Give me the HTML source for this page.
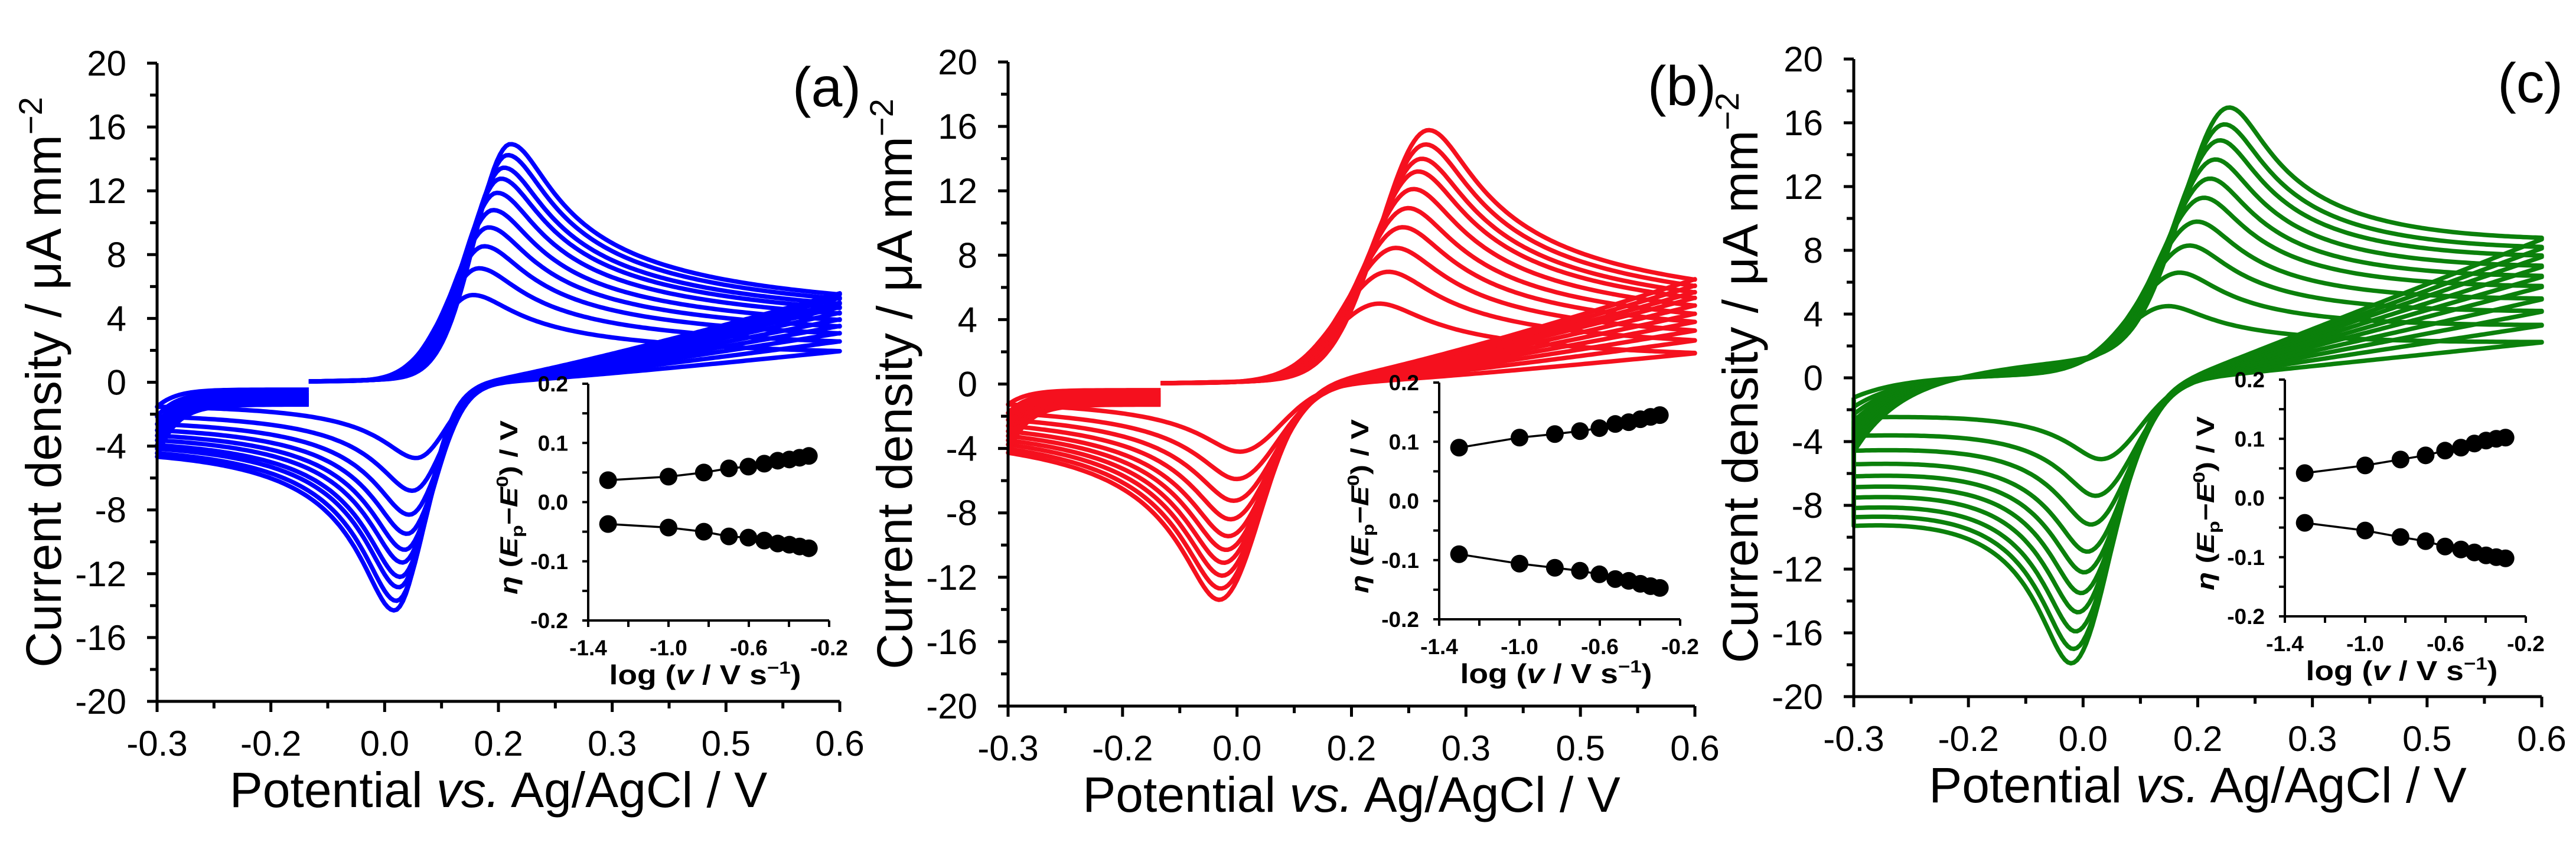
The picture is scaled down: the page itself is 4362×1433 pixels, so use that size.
<!DOCTYPE html>
<html><head><meta charset="utf-8"><style>
html,body{margin:0;padding:0;background:#fff;}
svg{display:block;}
text{font-family:"Liberation Sans",Arial,sans-serif;fill:#000;}
.b{font-weight:bold;}
</style></head>
<body>
<svg id="fig" width="4362" height="1433" viewBox="0 0 4362 1433" xmlns="http://www.w3.org/2000/svg"></svg>
<script>
// ---- data ----
const scanLogV = [-1.301,-1.0,-0.824,-0.699,-0.602,-0.523,-0.456,-0.398,-0.347,-0.301];

const aAnodicPeak = [5.5,7.2,8.6,9.8,10.9,12.0,12.9,13.6,14.4,15.1];
const aAnodicPotential = [0.116,0.124,0.131,0.137,0.143,0.148,0.153,0.157,0.162,0.166];
const aCathodicPeak = [-4.75,-6.8,-8.3,-9.5,-10.5,-11.3,-12.2,-12.85,-13.7,-14.3];
const aCathodicPotential = [0.042,0.037,0.033,0.030,0.027,0.024,0.021,0.019,0.016,0.013];
const aInsetUpper = [0.037,0.043,0.050,0.057,0.060,0.065,0.070,0.072,0.075,0.078];
const aInsetLower = [-0.037,-0.043,-0.050,-0.058,-0.060,-0.065,-0.070,-0.072,-0.075,-0.078];

const bAnodicPeak = [5.0,7.0,8.5,9.8,11.0,12.2,13.3,14.1,15.0,15.9];
const bAnodicPotential = [0.186,0.198,0.208,0.217,0.224,0.231,0.237,0.242,0.247,0.251];
const bCathodicPeak = [-4.2,-5.9,-7.25,-8.4,-9.45,-10.3,-11.1,-11.9,-12.7,-13.4];
const bCathodicPotential = [0.004,0.0,-0.004,-0.008,-0.011,-0.014,-0.017,-0.019,-0.021,-0.023];
const bInsetUpper = [0.090,0.107,0.113,0.118,0.123,0.130,0.133,0.138,0.142,0.145];
const bInsetLower = [-0.090,-0.106,-0.113,-0.118,-0.124,-0.132,-0.135,-0.140,-0.144,-0.147];

const cAnodicPeak = [4.5,6.6,8.3,9.8,11.3,12.5,13.7,14.9,15.9,16.96];
const cAnodicPotential = [0.11,0.125,0.138,0.148,0.157,0.165,0.172,0.178,0.184,0.19];
const cCathodicPeak = [-5.1,-7.4,-9.2,-10.9,-12.2,-13.5,-14.7,-15.9,-17.0,-17.9];
const cCathodicPotential = [0.025,0.018,0.012,0.007,0.003,-0.001,-0.005,-0.008,-0.011,-0.014];
const cInsetUpper = [0.042,0.055,0.065,0.072,0.080,0.085,0.092,0.097,0.100,0.102];
const cInsetLower = [-0.042,-0.055,-0.066,-0.073,-0.082,-0.087,-0.092,-0.097,-0.100,-0.102];

const xTickLabels = ['-0.3','-0.2','0.0','0.2','0.3','0.5','0.6'];
const yTickValues = [20,16,12,8,4,0,-4,-8,-12,-16,-20];
const insetYTickValues = [0.2,0.1,0.0,-0.1,-0.2];
const insetYTickLabels = ['0.2','0.1','0.0','-0.1','-0.2'];
const insetXTickValues = [-1.4,-1.0,-0.6,-0.2];
const insetXTickLabels = ['-1.4','-1.0','-0.6','-0.2'];

// ---- layout / model params ----
const panels = [
 {id:'a',label:'(a)',color:'#0000ff',x0:266,x1:1422,y0:107,y1:1188,
  ipa:aAnodicPeak,epa:aAnodicPotential,ipc:aCathodicPeak,epc:aCathodicPotential,up:aInsetUpper,lo:aInsetLower,
  m:{wa:.066,ba:.045,ka:.25,wc:.055,bc:.04,kc:.35,bgF0:0,bgF1:1.1,bgR0:-1.4,bgR1:3.1,dr:.1,pr:1.2,full:false}},
 {id:'b',label:'(b)',color:'#f5101e',x0:1707,x1:2870,y0:105,y1:1196,
  ipa:bAnodicPeak,epa:bAnodicPotential,ipc:bCathodicPeak,epc:bCathodicPotential,up:bInsetUpper,lo:bInsetLower,
  m:{wa:.09,ba:.05,ka:.25,wc:.075,bc:.045,kc:.35,bgF0:0,bgF1:0.9,bgR0:-0.6,bgR1:1.5,dr:.12,pr:1.2,full:false}},
 {id:'c',label:'(c)',color:'#0b800b',x0:3139,x1:4304,y0:100,y1:1180,
  ipa:cAnodicPeak,epa:cAnodicPotential,ipc:cCathodicPeak,epc:cCathodicPotential,up:cInsetUpper,lo:cInsetLower,
  m:{wa:.085,ba:.045,ka:.25,wc:.07,bc:.04,kc:.35,bgF0:-0.2,bgF1:4.5,bgR0:-5.3,bgR1:11.6,dr:.12,pr:1.0,full:true,tau:.06,startFrac:0.5}}
];

const NS='http://www.w3.org/2000/svg';
const svg=document.getElementById('fig');
function mk(tag,attrs,parent){const e=document.createElementNS(NS,tag);for(const k in attrs)e.setAttribute(k,attrs[k]);(parent||svg).appendChild(e);return e;}

function cvPoints(p,k){
 const m=p.m, maxI=Math.max(...p.ipa), s=p.ipa[k]/maxI;
 const bgF=E=>s*(m.bgF0+m.bgF1*(E+0.3));
 const bgR=E=>s*(m.bgR0+m.bgR1*(E+0.3));
 const Ea=p.epa[k], Ec=p.epc[k];
 const Ia=p.ipa[k]-bgF(Ea), Ic=bgR(Ec)-p.ipc[k];
 const shF=d=>d<0?Math.exp(-(d/m.wa)*(d/m.wa)):Math.pow(1+(d/m.ba)*(d/m.ba),-m.ka);
 const shC=d=>d<0?Math.exp(-(d/m.wc)*(d/m.wc)):Math.pow(1+(d/m.bc)*(d/m.bc),-m.kc);
 const fwd0=E=>Ia*shF(E-Ea)+bgF(E);
 const Er=Ec+m.dr;
 const R=fwd0(0.6)-bgR(0.6)-0.1*s;
 const rev=E=>{let t=(E-Er)/(0.6-Er);t=Math.max(0,Math.min(1,t));return R*Math.pow(t,m.pr)-Ic*shC(Ec-E)+bgR(E);};
 const yEnd=rev(-0.3);
 const pts=[];const st=0.004;
 const Es=-0.10;
 if(m.full){
  const off=yEnd*m.startFrac-fwd0(-0.3);
  for(let E=-0.3;E<=0.6+1e-9;E+=st)pts.push([E,fwd0(E)+off*Math.exp(-(E+0.3)/m.tau)]);
  for(let E=0.6;E>=-0.3-1e-9;E-=st)pts.push([E,rev(E)]);
  pts.push([-0.3,yEnd*m.startFrac]);
 }else{
  for(let E=Es;E<=0.6+1e-9;E+=st)pts.push([E,fwd0(E)-fwd0(Es)+0.05]);
  for(let E=0.6;E>=-0.3-1e-9;E-=st)pts.push([E,rev(E)]);
  const tgt=yEnd*0.3;
  for(let E=-0.3;E<=Es+1e-9;E+=st)pts.push([E,yEnd+(tgt-yEnd)*(1-Math.exp(-(E+0.3)/0.025))]);
 }
 return pts;
}

panels.forEach(p=>{
 const sx=E=>p.x0+(E+0.3)/0.9*(p.x1-p.x0);
 const sy=I=>p.y0+(20-I)/40*(p.y1-p.y0);
 const g=mk('g',{});
 
 

 for(let k=0;k<p.ipa.length;k++){
  const pts=cvPoints(p,k);
  const d=pts.map((q,i)=>(i?'L':'M')+sx(q[0]).toFixed(1)+' '+sy(q[1]).toFixed(1)).join('');
  const path=mk('path',{d:d,fill:'none',stroke:p.color,'stroke-width':7.5,'stroke-linejoin':'round'},g);
  
  
 }

 const ax=mk('path',{d:`M${p.x0} ${p.y0}V${p.y1}H${p.x1}`,fill:'none',stroke:'#000','stroke-width':5},g);
 
 
 for(let i=0;i<=12;i++){
  const E=-0.3+0.075*i, x=sx(E), maj=i%2===0;
  const t=mk('line',{x1:x,y1:p.y1,x2:x,y2:p.y1+(maj?18:12),stroke:'#000','stroke-width':5},g);
  
  
  if(maj){
   const tl=mk('text',{x:x,y:p.y1+92,'font-size':60,'text-anchor':'middle'},g);
   tl.textContent=xTickLabels[i/2];
   
   
  }
 }
 for(let v=-20;v<=20;v+=2){
  const y=sy(v), maj=v%4===0;
  const t=mk('line',{x1:p.x0-(maj?17:12),y1:y,x2:p.x0,y2:y,stroke:'#000','stroke-width':5},g);
  
  
 }
 yTickValues.forEach(v=>{
  const tl=mk('text',{x:p.x0-52,y:sy(v)+21,'font-size':60,'text-anchor':'end'},g);
  tl.textContent=String(v);
  
  
 });
 const xt=mk('text',{x:(p.x0+p.x1)/2,y:p.y1+179,'font-size':84,'text-anchor':'middle'},g);
 xt.innerHTML='Potential <tspan font-style="italic">vs.</tspan> Ag/AgCl / V';
 
 
 const ymid=(p.y0+p.y1)/2, ytx=p.x0-163;
 const yt=mk('text',{x:ytx,y:ymid,'font-size':84,'text-anchor':'middle',transform:`rotate(-90 ${ytx} ${ymid})`},g);
 yt.innerHTML='Current density / μA mm<tspan dy="-32" font-size="56">−2</tspan>';
 
 
 const pl=mk('text',{x:p.x1+36,y:p.y0+73,'font-size':95,'text-anchor':'end'},g);
 pl.textContent=p.label;
 
 

 const ix0=p.x0+730, ix1=ix0+408, iy0=p.y0+543, iy1=iy0+401;
 const ixs=v=>ix0+(v+1.4)/1.2*(ix1-ix0);
 const iys=v=>iy0+(0.2-v)/0.4*(iy1-iy0);
 const ig=mk('g',{},g);
 
 
 const iax=mk('path',{d:`M${ix0} ${iy0}V${iy1}H${ix1}`,fill:'none',stroke:'#000','stroke-width':4},ig);
 
 
 for(let i=0;i<=8;i++){
  const y=iys(0.2-0.05*i);
  const t=mk('line',{x1:ix0-10,y1:y,x2:ix0,y2:y,stroke:'#000','stroke-width':4},ig);
  
  
 }
 for(let i=0;i<=6;i++){
  const x=ixs(-1.4+0.2*i);
  const t=mk('line',{x1:x,y1:iy1,x2:x,y2:iy1+11,stroke:'#000','stroke-width':4},ig);
  
  
 }
 insetYTickValues.forEach((v,i)=>{
  const tl=mk('text',{x:ix0-34,y:iys(v)+13,'font-size':37,'text-anchor':'end','class':'b'},ig);
  tl.textContent=insetYTickLabels[i];
  
  
 });
 insetXTickValues.forEach((v,i)=>{
  const tl=mk('text',{x:ixs(v),y:iy1+59,'font-size':37,'text-anchor':'middle','class':'b'},ig);
  tl.textContent=insetXTickLabels[i];
  
  
 });
 const ixt=mk('text',{x:(ix0+ix1)/2-6,y:iy1+108,'font-size':46,'text-anchor':'middle','class':'b',textLength:325,lengthAdjust:'spacingAndGlyphs'},ig);
 ixt.innerHTML='log (<tspan font-style="italic">v</tspan> / V s<tspan dy="-18" font-size="30">−1</tspan><tspan dy="18">)</tspan>';
 
 
 const iyx=ix0-120, iym=(iy0+iy1)/2+9;
 const iyt=mk('text',{x:iyx,y:iym,'font-size':42,'text-anchor':'middle','class':'b',textLength:295,lengthAdjust:'spacingAndGlyphs',transform:`rotate(-90 ${iyx} ${iym})`},ig);
 iyt.innerHTML='<tspan font-style="italic">η</tspan> (<tspan font-style="italic">E</tspan><tspan dy="9" font-size="28">p</tspan><tspan dy="-9">−</tspan><tspan font-style="italic">E</tspan><tspan dy="-16" font-size="28">0</tspan><tspan dy="16">) / V</tspan>';
 
 
 [p.up,p.lo].forEach((ser,si)=>{
  const d=ser.map((v,i)=>(i?'L':'M')+ixs(scanLogV[i]).toFixed(1)+' '+iys(v).toFixed(1)).join('');
  const ln=mk('path',{d:d,fill:'none',stroke:'#000','stroke-width':3.5},ig);
  
  
  ser.forEach((v,i)=>{
   const c=mk('circle',{cx:ixs(scanLogV[i]),cy:iys(v),r:15,fill:'#000'},ig);
   
   
  });
 });
});
</script>
</body></html>
